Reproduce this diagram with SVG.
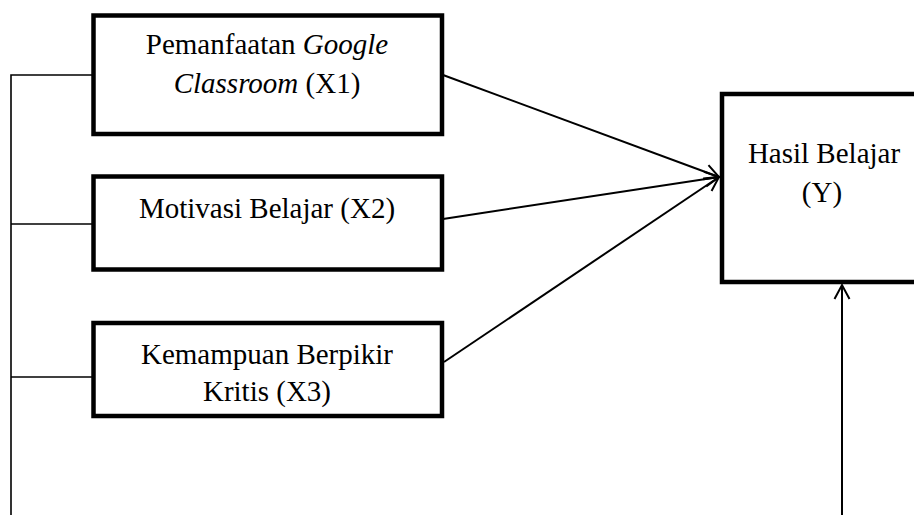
<svg xmlns="http://www.w3.org/2000/svg" width="914" height="515" viewBox="0 0 914 515">
<style>
.box{fill:#fff;stroke:#000;stroke-width:4.5}
.t{font-family:"Liberation Serif","Times New Roman",serif;font-size:29px;fill:#000;text-anchor:middle}
.c{fill:none;stroke:#000;stroke-width:2}
.l{fill:none;stroke:#000;stroke-width:1.6}
</style>
<defs>
<marker id="ah" markerUnits="userSpaceOnUse" markerWidth="20" markerHeight="20" refX="16" refY="10" orient="auto">
<path d="M2,2.5 L16,10 L2,17.5" fill="none" stroke="#000" stroke-width="2"/>
</marker>
</defs>
<g id="connectors">
<polyline class="l" points="94,75 11,75 11,515"/>
<line class="l" x1="11" y1="224" x2="94" y2="224"/>
<line class="l" x1="11" y1="377" x2="94" y2="377"/>
<line class="c" x1="443" y1="75" x2="719" y2="177" marker-end="url(#ah)"/>
<line class="c" x1="443" y1="219" x2="719" y2="177" marker-end="url(#ah)"/>
<line class="c" x1="444" y1="362" x2="719" y2="177" marker-end="url(#ah)"/>
<line class="c" x1="842" y1="515" x2="842" y2="285" marker-end="url(#ah)"/>
</g>
<g id="x1">
<rect class="box" x="93.5" y="15.5" width="348.5" height="118.5"/>
<text class="t" x="267" y="54">Pemanfaatan <tspan font-style="italic">Google</tspan></text>
<text class="t" x="267" y="93"><tspan font-style="italic">Classroom</tspan> (X1)</text>
</g>
<g id="x2">
<rect class="box" x="93.5" y="176.5" width="348.5" height="93"/>
<text class="t" x="267" y="218">Motivasi Belajar (X2)</text>
</g>
<g id="x3">
<rect class="box" x="93.5" y="323" width="348.5" height="93"/>
<text class="t" x="267" y="364">Kemampuan Berpikir</text>
<text class="t" x="267" y="401">Kritis (X3)</text>
</g>
<g id="y">
<rect class="box" x="722" y="94" width="204" height="188"/>
<text class="t" x="824" y="163">Hasil Belajar</text>
<text class="t" x="822" y="202">(Y)</text>
</g>
</svg>
